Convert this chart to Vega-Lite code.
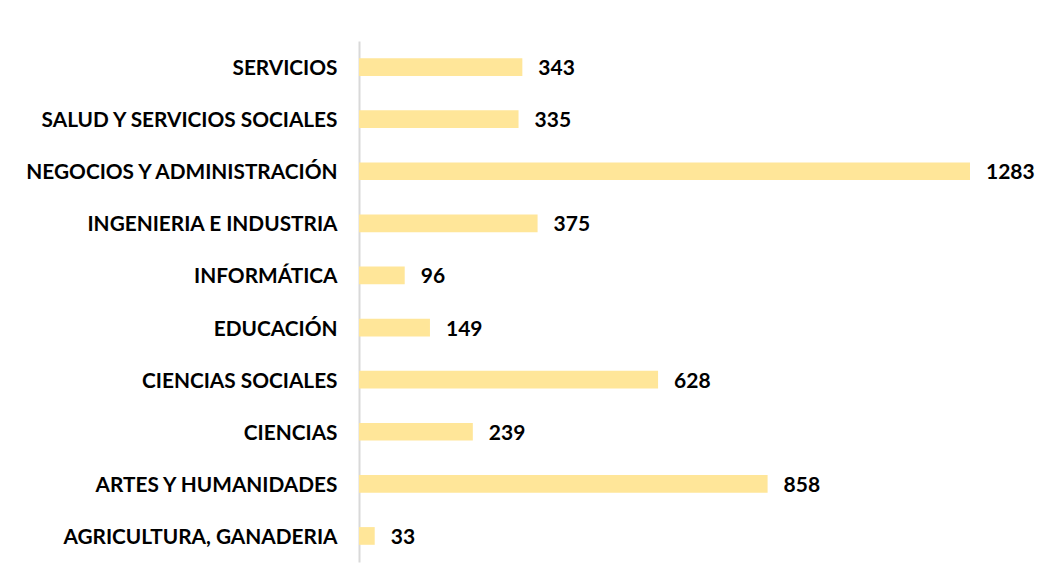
{
  "$schema": "https://vega.github.io/schema/vega-lite/v6.json",
  "autosize": {"type": "none"},
  "padding": {"left": 359, "top": 41, "right": 71, "bottom": 21},
  "width": 611,
  "height": 521,
  "background": "white",
  "config": {"view": {"stroke": null}, "font": "Lato"},
  "data": {"values": [
    {"area": "SERVICIOS", "n": 343},
    {"area": "SALUD Y SERVICIOS SOCIALES", "n": 335},
    {"area": "NEGOCIOS Y ADMINISTRACIÓN", "n": 1283},
    {"area": "INGENIERIA E INDUSTRIA", "n": 375},
    {"area": "INFORMÁTICA", "n": 96},
    {"area": "EDUCACIÓN", "n": 149},
    {"area": "CIENCIAS SOCIALES", "n": 628},
    {"area": "CIENCIAS", "n": 239},
    {"area": "ARTES Y HUMANIDADES", "n": 858},
    {"area": "AGRICULTURA, GANADERIA", "n": 33}
  ]},
  "encoding": {
    "y": {"field": "area", "type": "nominal", "sort": null,
      "scale": {"paddingInner": 0.66, "paddingOuter": 0.33},
      "axis": {"title": null, "ticks": false, "domain": true, "domainColor": "#d9d9d9", "domainWidth": 2,
        "labelFont": "Lato", "labelFontWeight": "bold", "labelFontSize": 20.8, "labelColor": "#000000", "labelPadding": 22, "labelLimit": 400, "labelOffset": 2}},
    "x": {"field": "n", "type": "quantitative", "scale": {"domain": [0, 1283], "nice": false},
      "axis": null}
  },
  "layer": [
    {"mark": {"type": "bar", "color": "#FFE699"}},
    {"mark": {"type": "text", "align": "left", "dx": 16, "dy": 2, "font": "Lato", "fontWeight": "bold", "fontSize": 21, "color": "#000000"},
     "encoding": {"text": {"field": "n", "type": "quantitative"}}}
  ]
}
